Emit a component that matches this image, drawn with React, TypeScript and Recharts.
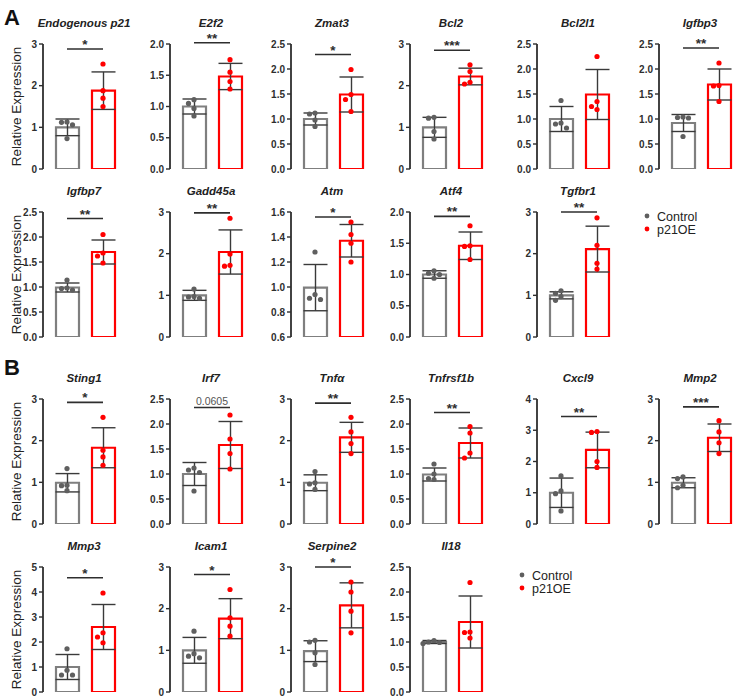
import React from "react";
import {
  ComposedChart,
  Bar,
  Cell,
  ErrorBar,
  Scatter,
  XAxis,
  YAxis,
  ReferenceLine,
} from "recharts";

const genes = [
  "Endogenous p21", "E2f2", "Zmat3", "Bcl2", "Bcl2l1", "Igfbp3",
  "Igfbp7", "Gadd45a", "Atm", "Atf4", "Tgfbr1",
  "Sting1", "Irf7", "Tnfα", "Tnfrsf1b", "Cxcl9", "Mmp2",
  "Mmp3", "Icam1", "Serpine2", "Il18",
];

const controlMeans = [1.0, 1.0, 1.0, 1.0, 1.0, 0.92, 0.99, 1.0, 0.995, 1.0, 1.0, 0.99, 1.0, 0.99, 0.99, 1.0, 0.99, 1.0, 1.0, 0.98, 1.0];
const controlSD = [0.2, 0.12, 0.12, 0.24, 0.25, 0.17, 0.09, 0.12, 0.185, 0.06, 0.085, 0.22, 0.23, 0.19, 0.13, 0.47, 0.12, 0.5, 0.31, 0.25, 0.03];
const oeMeans = [1.88, 1.48, 1.49, 2.22, 1.49, 1.69, 1.7, 2.04, 1.37, 1.46, 2.11, 1.83, 1.58, 2.08, 1.62, 2.37, 2.07, 2.6, 1.76, 2.08, 1.4];
const oeSD = [0.45, 0.21, 0.35, 0.2, 0.5, 0.31, 0.24, 0.53, 0.13, 0.22, 0.55, 0.48, 0.47, 0.36, 0.3, 0.57, 0.33, 0.9, 0.48, 0.54, 0.52];

const controlDots = [
  [1.13, 1.12, 1.06, 0.73], [1.11, 1.05, 0.97, 0.85], [1.12, 1.1, 0.98, 0.85],
  [1.24, 1.22, 0.9, 0.72], [1.37, 0.92, 0.9, 0.82], [1.04, 1.03, 1.02, 0.65],
  [1.14, 0.98, 0.97, 0.94], [1.15, 0.97, 0.96, 0.93], [1.28, 0.94, 0.91, 0.9],
  [1.06, 1.02, 1.0, 0.94], [1.11, 1.05, 0.97, 0.88],
  [1.33, 0.93, 0.92, 0.8], [1.12, 1.08, 1.03, 0.66], [1.26, 0.99, 0.96, 0.83],
  [1.2, 1.0, 0.91, 0.89], [1.54, 1.06, 0.97, 0.42], [1.13, 1.09, 0.93, 0.87],
  [1.73, 0.87, 0.68, 0.68], [1.46, 0.92, 0.86, 0.82], [1.24, 1.2, 0.94, 0.66],
  [1.03, 1.0, 0.99, 0.97],
];
const oeDots = [
  [2.52, 1.88, 1.7, 1.5], [1.75, 1.55, 1.4, 1.28], [1.99, 1.49, 1.39, 1.15],
  [2.5, 2.34, 2.08, 2.04], [2.25, 1.35, 1.25, 1.19], [2.12, 1.67, 1.66, 1.35],
  [2.05, 1.68, 1.62, 1.48], [2.85, 1.99, 1.72, 1.7], [1.52, 1.42, 1.35, 1.2],
  [1.78, 1.46, 1.45, 1.24], [2.86, 2.2, 1.77, 1.63],
  [2.56, 1.77, 1.61, 1.41], [2.18, 1.7, 1.41, 1.1], [2.56, 2.21, 1.93, 1.69],
  [1.95, 1.82, 1.42, 1.32], [2.96, 2.93, 2.0, 1.81], [2.48, 2.21, 1.95, 1.69],
  [3.96, 2.37, 2.2, 1.97], [2.46, 1.78, 1.58, 1.34], [2.64, 2.4, 1.94, 1.42],
  [2.19, 1.2, 1.19, 1.08],
];

const T3 = [0, 1, 2, 3];
const T20 = [0, 0.5, 1, 1.5, 2];
const T25 = [0, 0.5, 1, 1.5, 2, 2.5];
const yTicks = [
  T3, T20, T25, T3, T25, T25,
  T25, T3, [0.6, 0.8, 1.0, 1.2, 1.4, 1.6], T20, T3,
  T3, T25, T3, T25, [0, 1, 2, 3, 4], T3,
  [0, 1, 2, 3, 4, 5], T3, T3, T25,
];

const sigLabels = ["*", "**", "*", "***", "", "**", "**", "**", "*", "**", "**", "*", "0.0605", "**", "**", "**", "***", "*", "*", "*", ""];
const sigLevels = [2.88, 2.02, 2.29, 2.85, 0, 2.42, 2.37, 2.98, 1.56, 1.93, 3.0, 2.92, 2.33, 2.9, 2.23, 3.44, 2.81, 4.57, 2.82, 3.0, 0];

const groups = ["Control", "p21OE"];

const FONT = '"Liberation Sans", Arial, sans-serif';
const GREY = "#7f7f7f";
const RED = "#ff0000";
const INK = "#2e2e2e";

const PLOT_W = 82;
const PLOT_H = 125;
const Y_W = 30;
const M_TOP = 14;
const M_RIGHT = 4;
const M_BOTTOM = 7;

const colAxisX = [43, 170, 291, 410, 537, 659];
const rowPlotTop = [44, 212, 399, 567];
const rowGenes = [
  [0, 1, 2, 3, 4, 5],
  [6, 7, 8, 9, 10],
  [11, 12, 13, 14, 15, 16],
  [17, 18, 19, 20],
];

// simple beeswarm: spread dots sideways when they'd overlap
function swarm(values: number[], pxPerUnit: number) {
  const order = values.map((v, i) => i).sort((a, b) => values[b] - values[a]);
  const placed: { x: number; y: number }[] = [];
  const out = values.map(() => 0);
  const tries = [0, -5.5, 5.5, -11, 11];
  for (const i of order) {
    const y = values[i] * pxPerUnit;
    for (const dx of tries) {
      if (placed.every((p) => Math.hypot(p.x - dx, p.y - y) >= 5.2)) {
        placed.push({ x: dx, y });
        out[i] = dx;
        break;
      }
    }
  }
  return out;
}

function GenePanel({ gi }: { gi: number }) {
  const ticks = yTicks[gi];
  const lo = ticks[0];
  const hi = ticks[ticks.length - 1];
  const decimals = ticks.some((t) => !Number.isInteger(t)) ? 1 : 0;
  const pxPerUnit = PLOT_H / (hi - lo);

  const data = [
    { group: groups[0], mean: controlMeans[gi], sd: controlSD[gi] },
    { group: groups[1], mean: oeMeans[gi], sd: oeSD[gi] },
  ];
  const cOff = swarm(controlDots[gi], pxPerUnit);
  const oOff = swarm(oeDots[gi], pxPerUnit);
  const dots = [
    ...controlDots[gi].map((v, k) => ({ group: groups[0], value: v, dx: cOff[k] })),
    ...oeDots[gi].map((v, k) => ({ group: groups[1], value: v, dx: oOff[k] })),
  ];
  const sig = sigLabels[gi];
  const isStar = sig.startsWith("*");

  return (
    <ComposedChart
      width={Y_W + PLOT_W + M_RIGHT}
      height={M_TOP + PLOT_H + M_BOTTOM}
      data={data}
      margin={{ top: M_TOP, right: M_RIGHT, bottom: M_BOTTOM, left: 0 }}
    >
      <XAxis
        dataKey="group"
        allowDuplicatedCategory={false}
        tick={false}
        tickLine={false}
        height={0}
        padding={{ left: 6, right: 4 }}
        axisLine={{ stroke: INK, strokeWidth: 1.8 }}
      />
      <YAxis
        domain={[lo, hi]}
        ticks={ticks}
        interval={0}
        allowDataOverflow
        width={Y_W}
        tickSize={4}
        tickMargin={2}
        tickFormatter={(v: number) => v.toFixed(decimals)}
        tick={{ fontSize: 10, fontWeight: "bold", fill: INK, fontFamily: FONT }}
        tickLine={{ stroke: INK, strokeWidth: 1.4 }}
        axisLine={{ stroke: INK, strokeWidth: 1.8 }}
      />
      <Bar dataKey="mean" barSize={23} isAnimationActive={false}>
        {data.map((d, k) => (
          <Cell key={k} fill="#ffffff" stroke={k === 0 ? GREY : RED} strokeWidth={2.2} />
        ))}
        <ErrorBar dataKey="sd" width={12} stroke="#3a3a3a" strokeWidth={1.4} />
      </Bar>
      <Scatter
        data={dots}
        dataKey="value"
        isAnimationActive={false}
        shape={(p: any) => (
          <circle
            cx={p.cx + p.payload.dx}
            cy={p.cy}
            r={2.6}
            fill={p.payload.group === groups[0] ? "#5f5f5f" : RED}
          />
        )}
      />
      {sig && (
        <ReferenceLine
          segment={[
            { x: groups[0], y: sigLevels[gi] },
            { x: groups[1], y: sigLevels[gi] },
          ]}
          ifOverflow="visible"
          stroke={INK}
          strokeWidth={1.6}
          label={{
            value: sig,
            position: "top",
            offset: isStar ? 0 : 3,
            fill: isStar ? INK : "#555",
            fontSize: isStar ? 13.5 : 10.5,
            fontWeight: isStar ? "bold" : "normal",
            fontFamily: FONT,
          }}
        />
      )}
    </ComposedChart>
  );
}

export default function App() {
  const panels: React.ReactNode[] = [];
  const titles: React.ReactNode[] = [];
  rowGenes.forEach((row, r) => {
    row.forEach((gi, c) => {
      panels.push(
        <div
          key={gi}
          style={{ position: "absolute", left: colAxisX[c] - Y_W, top: rowPlotTop[r] - M_TOP }}
        >
          <GenePanel gi={gi} />
        </div>
      );
      titles.push(
        <text
          key={gi}
          x={colAxisX[c] + PLOT_W / 2}
          y={rowPlotTop[r] - 17}
          textAnchor="middle"
          fontSize={11.5}
          fontWeight="bold"
          fontStyle="italic"
          fill="#222"
        >
          {genes[gi]}
        </text>
      );
    });
  });

  const legend = (x: number, y: number) => (
    <g>
      <circle cx={x} cy={y} r={2.4} fill="#5f5f5f" />
      <text x={x + 10} y={y + 4.5} fontSize={12.5} fill="#222">Control</text>
      <circle cx={x} cy={y + 13} r={2.4} fill={RED} />
      <text x={x + 10} y={y + 17.5} fontSize={12.5} fill="#222">p21OE</text>
    </g>
  );

  return (
    <div
      style={{
        position: "absolute",
        left: 0,
        top: 0,
        width: 749,
        height: 698,
        overflow: "hidden",
        background: "#ffffff",
        fontFamily: FONT,
      }}
    >
      {panels}
      <svg
        width={749}
        height={698}
        style={{ position: "absolute", left: 0, top: 0, pointerEvents: "none" }}
        fontFamily={FONT}
      >
        <text x={4} y={25} fontSize={22} fontWeight="bold" fill="#111">A</text>
        <text x={4} y={375} fontSize={22} fontWeight="bold" fill="#111">B</text>
        {titles}
        {rowPlotTop.map((t, r) => (
          <text
            key={r}
            x={0}
            y={0}
            transform={`translate(21, ${t + PLOT_H / 2}) rotate(-90)`}
            textAnchor="middle"
            fontSize={13.5}
            fill="#222"
          >
            Relative Expression
          </text>
        ))}
        {legend(647, 216)}
        {legend(522, 575)}
      </svg>
    </div>
  );
}
